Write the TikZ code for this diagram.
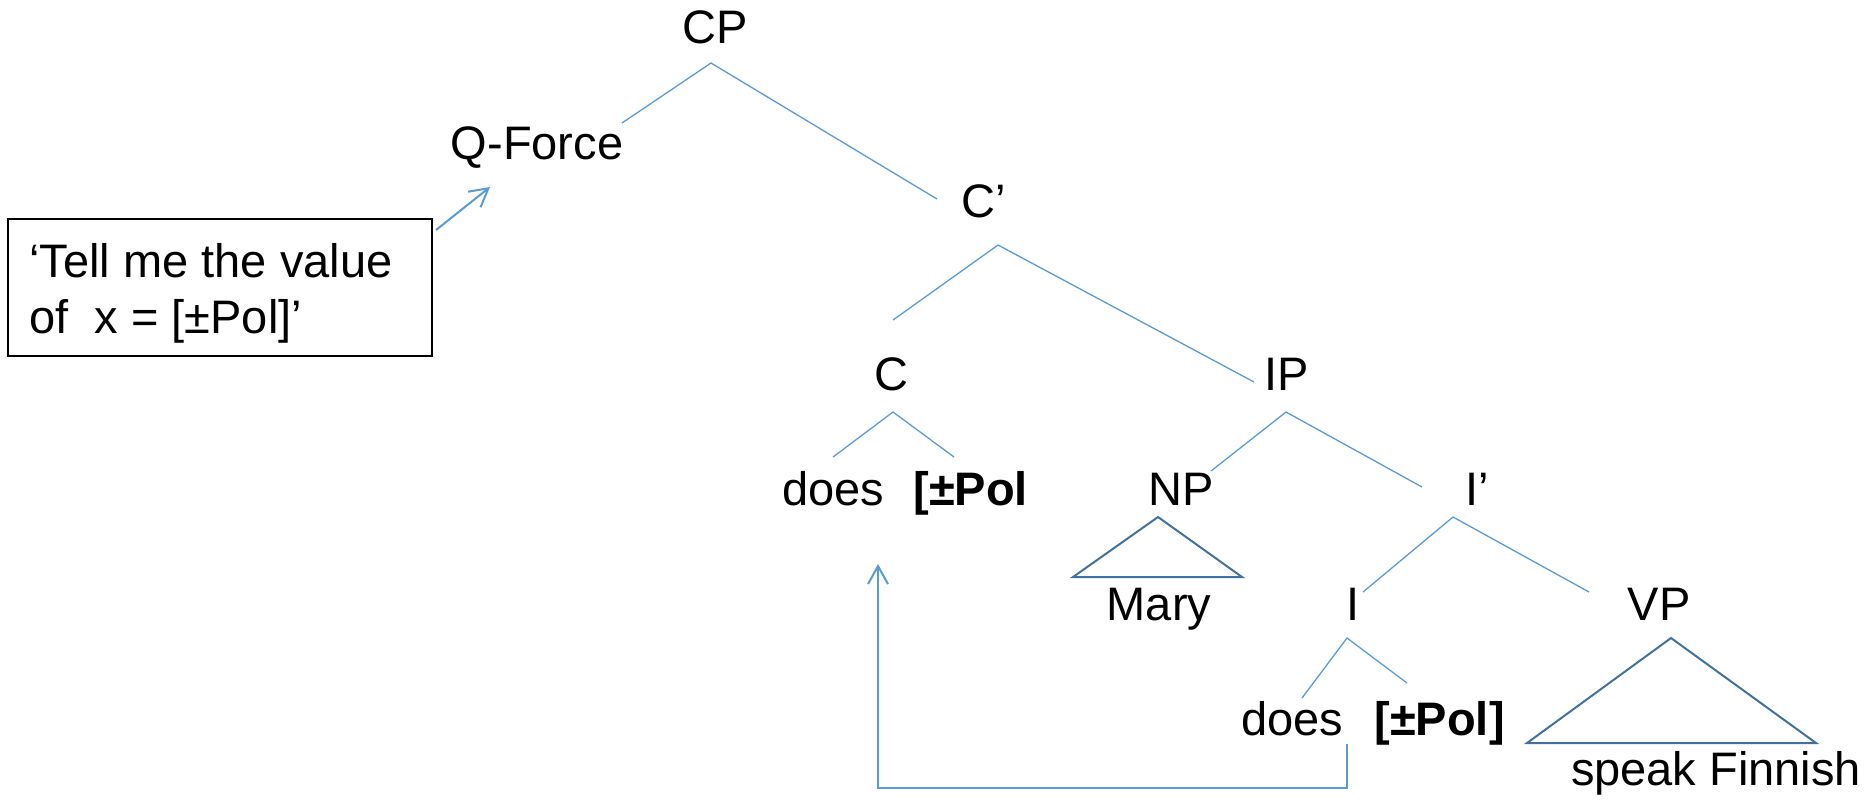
\documentclass[tikz,border=0pt]{standalone}
\usepackage{fontspec}
\setmainfont{Liberation Sans}
\usetikzlibrary{arrows.meta,calc}
\definecolor{branch}{RGB}{91,155,213}
\definecolor{roof}{RGB}{65,113,156}
\begin{document}
\begin{tikzpicture}[x=0.5pt,y=-0.5pt,
  lbl/.style={inner sep=0pt, anchor=base, font=\fontsize{23.5}{28}\selectfont},
  lblb/.style={lbl, font=\fontsize{23.5}{28}\selectfont\bfseries},
  branchline/.style={draw=branch, line width=0.65pt},
  roofline/.style={draw=roof, line width=1pt, line join=miter},
  move/.style={draw=branch, line width=1pt, -{Straight Barb[length=9pt,width=10pt]}},
]
\useasboundingbox (0,0) rectangle (1872,805);

% labels of the tree
\node[lbl] (CP) at (715,43) {CP};
\node[lbl] (QF) at (537,159) {Q-Force};
\node[lbl] (Cbar) at (984,217) {C’};
\node[lbl] (C) at (891,390) {C};
\node[lbl] (IP) at (1287,390) {IP};
\node[lbl, anchor=base west] (doesC) at (782,505) {does};
\node[lblb, anchor=base west] (polC) at (913,505) {[±Pol};
\node[lbl] (NP) at (1181,505) {NP};
\node[lbl] (Ibar) at (1477,505) {I’};
\node[lbl] (Mary) at (1159,620) {Mary};
\node[lbl] (I) at (1353,620) {I};
\node[lbl] (VP) at (1659,620) {VP};
\node[lbl, anchor=base west] (doesI) at (1241,735) {does};
\node[lblb, anchor=base west] (polI) at (1374,735) {[±Pol]};
\node[lbl] (SF) at (1716,785) {speak Finnish};

% gloss box
\node[draw, line width=1pt, inner sep=0pt, minimum width=212pt, minimum height=68.5pt] (box) at (220,287.5) {};
\node[lbl, anchor=base west] (gl1) at (29,277) {‘Tell me the value};
\node[lbl, anchor=base west] (gl2) at (29,333) {of\ \ x = [±Pol]’};

% branch end points
\coordinate (CP-a) at (711,63);
\coordinate (QF-t) at (622,123);
\coordinate (Cbar-t) at (937,199);
\coordinate (Cbar-a) at (998,245);
\coordinate (C-t) at (893,320);
\coordinate (IP-t) at (1254,382);
\coordinate (C-a) at (893,412);
\coordinate (doesC-t) at (833,457);
\coordinate (polC-t) at (954,457);
\coordinate (IP-a) at (1286,412);
\coordinate (NP-t) at (1211,471);
\coordinate (Ibar-t) at (1422,487);
\coordinate (Ibar-a) at (1453,517);
\coordinate (I-t) at (1363,592);
\coordinate (VP-t) at (1589,592);
\coordinate (I-a) at (1347,638);
\coordinate (doesI-t) at (1302,698);
\coordinate (polI-t) at (1407,683);

\draw[branchline] (QF-t) -- (CP-a) -- (Cbar-t);
\draw[branchline] (C-t) -- (Cbar-a) -- (IP-t);
\draw[branchline] (doesC-t) -- (C-a) -- (polC-t);
\draw[branchline] (NP-t) -- (IP-a) -- (Ibar-t);
\draw[branchline] (I-t) -- (Ibar-a) -- (VP-t);
\draw[branchline] (doesI-t) -- (I-a) -- (polI-t);

% triangles over unanalysed phrases
\coordinate (NP-a) at (1158,517);
\coordinate (VP-a) at (1671,638);
\draw[roofline] (NP-a) -- (1073,577) -- (1242,577) -- cycle;
\draw[roofline] (VP-a) -- (1527,743) -- (1816,743) -- cycle;

% arrows
\coordinate (box-out) at ($(box.north east)+(3,12)$);
\coordinate (QF-in) at (490,187);
\draw[move] (box-out) -- (QF-in);

\coordinate (trace) at (1347,744);
\coordinate (land) at (878,564);
\draw[move, line join=miter] (trace) -- ++(0,44) -| (land);
\end{tikzpicture}
\end{document}
